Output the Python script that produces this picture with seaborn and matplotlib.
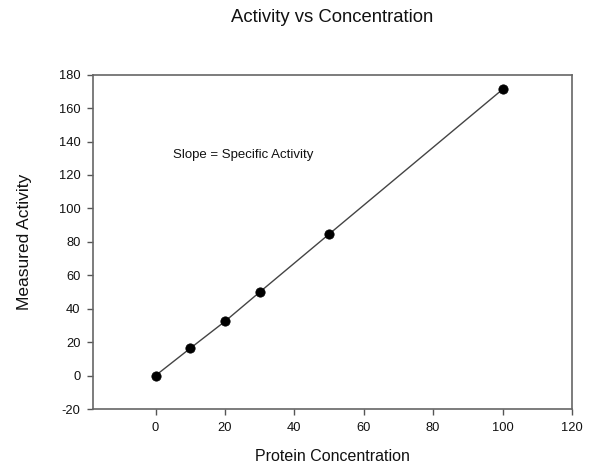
import matplotlib
matplotlib.use("Agg")
import matplotlib.pyplot as plt
import seaborn as sns
import pandas as pd

concentration = [0, 10, 20, 30, 50, 100]
activity = [0, 16.3, 32.4, 49.9, 84.6, 171.2]
x_ticks = [0, 20, 40, 60, 80, 100, 120]
y_ticks = [-20, 0, 20, 40, 60, 80, 100, 120, 140, 160, 180]

df = pd.DataFrame({"Protein Concentration": concentration, "Measured Activity": activity})

sns.set_theme(style="white")
plt.rcParams['font.family'] = ['Liberation Sans', 'DejaVu Sans']
plt.rcParams['axes.unicode_minus'] = False

fig = plt.figure(figsize=(5.89, 4.66), dpi=100)
ax = fig.add_axes([0.158, 0.1223, 0.813, 0.7174])

sns.lineplot(data=df, x="Protein Concentration", y="Measured Activity", ax=ax,
             color="#444444", linewidth=1.0)
sns.scatterplot(data=df, x="Protein Concentration", y="Measured Activity", ax=ax,
                color="black", s=45, edgecolor="black", zorder=3)

ax.set_xlim(-18, 120)
ax.set_ylim(-20, 180)
ax.set_xticks(x_ticks)
ax.set_yticks(y_ticks)
ax.tick_params(axis="both", which="major", direction="out", length=4, width=1,
               color="#555555", labelsize=9.3, labelcolor="#111111", bottom=True, left=True, pad=5)
for s in ax.spines.values():
    s.set_color("#666666")
    s.set_linewidth(1.2)

ax.set_xlabel("Protein Concentration", fontsize=11.5, color="#111111", labelpad=11)
ax.set_ylabel("Measured Activity", fontsize=12.5, color="#111111", labelpad=19)
ax.text(5, 132, "Slope = Specific Activity", fontsize=9.5, color="#111111", va="center", ha="left")

fig.suptitle("Activity vs Concentration", x=0.5645, y=0.9635, va="center",
             fontsize=13.3, color="#111111")

fig.savefig("out.png", dpi=100)
